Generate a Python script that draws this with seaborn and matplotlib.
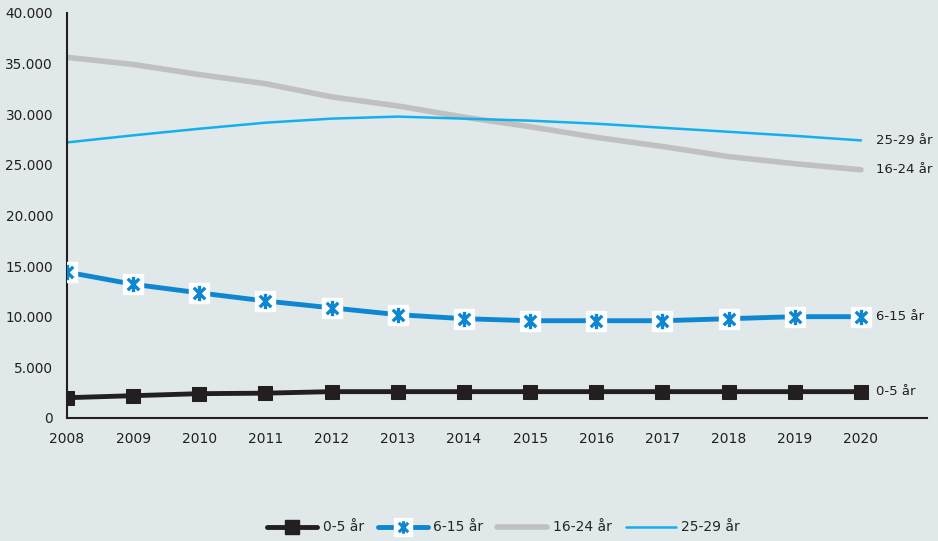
import pandas as pd
import seaborn as sns
import matplotlib.pyplot as plt
from matplotlib.lines import Line2D
from matplotlib.path import Path
from matplotlib.legend_handler import HandlerTuple
from matplotlib.ticker import FuncFormatter

years = list(range(2008, 2021))
age_0_5 = [2000, 2200, 2400, 2450, 2600, 2600, 2600, 2600, 2600, 2600, 2600, 2600, 2600]
age_6_15 = [14400, 13200, 12350, 11550, 10870, 10200, 9800, 9600, 9600, 9600, 9800, 10000, 10000]
age_16_24 = [35600, 34900, 33900, 33000, 31700, 30800, 29700, 28750, 27700, 26800, 25800, 25100, 24500]
age_25_29 = [27200, 27900, 28550, 29150, 29550, 29750, 29550, 29350, 29050, 28650, 28250, 27850, 27400]
series_labels = ["0-5 år", "6-15 år", "16-24 år", "25-29 år"]

bg = "#e0e8ea"
c_black = "#231f20"
c_blue = "#0e87d2"
c_gray = "#c0c0c0"
c_light = "#12b0ec"

df = pd.DataFrame({"year": years, "0-5 år": age_0_5, "6-15 år": age_6_15,
                   "16-24 år": age_16_24, "25-29 år": age_25_29})

# asterisk marker: vertical stroke plus an X
star = Path([(0, -1), (0, 1), (-0.75, -0.75), (0.75, 0.75), (-0.75, 0.75), (0.75, -0.75)],
            [Path.MOVETO, Path.LINETO, Path.MOVETO, Path.LINETO, Path.MOVETO, Path.LINETO])

sns.set_style("white")
plt.rcParams["font.family"] = ["DejaVu Sans"]

fig = plt.figure(figsize=(9.38, 5.41), dpi=100, facecolor=bg)
ax = fig.add_axes([0.0714, 0.2274, 0.917, 0.749])
ax.set_facecolor(bg)

sns.lineplot(data=df, x="year", y="16-24 år", ax=ax, color=c_gray, linewidth=4)
sns.lineplot(data=df, x="year", y="25-29 år", ax=ax, color=c_light, linewidth=1.8)
sns.lineplot(data=df, x="year", y="6-15 år", ax=ax, color=c_blue, linewidth=3.5)
sns.lineplot(data=df, x="year", y="0-5 år", ax=ax, color=c_black, linewidth=3.5,
             marker="s", markersize=10, markeredgecolor=c_black)
ax.plot(df["year"], df["6-15 år"], linestyle="none", marker="s", markersize=15,
        markerfacecolor="white", markeredgecolor="white", zorder=5)
ax.plot(df["year"], df["6-15 år"], linestyle="none", marker=star, markersize=11,
        markeredgecolor=c_blue, markeredgewidth=2.4, zorder=6)

for col in series_labels:
    ax.text(2020 + 0.22, df[col].iloc[-1], col, va="center", ha="left",
            fontsize=9.5, color=c_black)

ax.set_xlim(2008, 2021)
ax.set_ylim(0, 40000)
ax.set_xticks(years + [2021])
ax.set_xticklabels([str(y) for y in years] + [""])
ax.set_yticks(range(0, 40001, 5000))
ax.yaxis.set_major_formatter(FuncFormatter(lambda v, p: f"{int(v):,}".replace(",", ".")))
ax.set_xlabel("")
ax.set_ylabel("")

for s in ["top", "right"]:
    ax.spines[s].set_visible(False)
for s in ["left", "bottom"]:
    ax.spines[s].set_color(c_black)
    ax.spines[s].set_linewidth(1.5)
ax.tick_params(axis="y", direction="out", length=5, width=1.5, color=c_black,
               labelsize=9.8, labelcolor=c_black, pad=5)
ax.tick_params(axis="x", direction="inout", length=8, width=1.5, color=c_black,
               labelsize=10, labelcolor=c_black, pad=6)

h0 = Line2D([], [], color=c_black, linewidth=3.5, marker="s", markersize=10)
h1a = Line2D([], [], color=c_blue, linewidth=3.5)
h1b = Line2D([], [], linestyle="none", marker="s", markersize=13,
             markerfacecolor="white", markeredgecolor="white")
h1c = Line2D([], [], linestyle="none", marker=star, markersize=9,
             markeredgecolor=c_blue, markeredgewidth=2.2)
h2 = Line2D([], [], color=c_gray, linewidth=4)
h3 = Line2D([], [], color=c_light, linewidth=1.8)
fig.legend([h0, (h1a, h1b, h1c), h2, h3], series_labels,
           handler_map={tuple: HandlerTuple(ndivide=1, pad=0)},
           loc="center", bbox_to_anchor=(0.537, 0.025), ncol=4, frameon=False,
           fontsize=10, handlelength=3.6, handletextpad=0.4, columnspacing=1.0)

fig.savefig("out.png", dpi=100, facecolor=bg)
